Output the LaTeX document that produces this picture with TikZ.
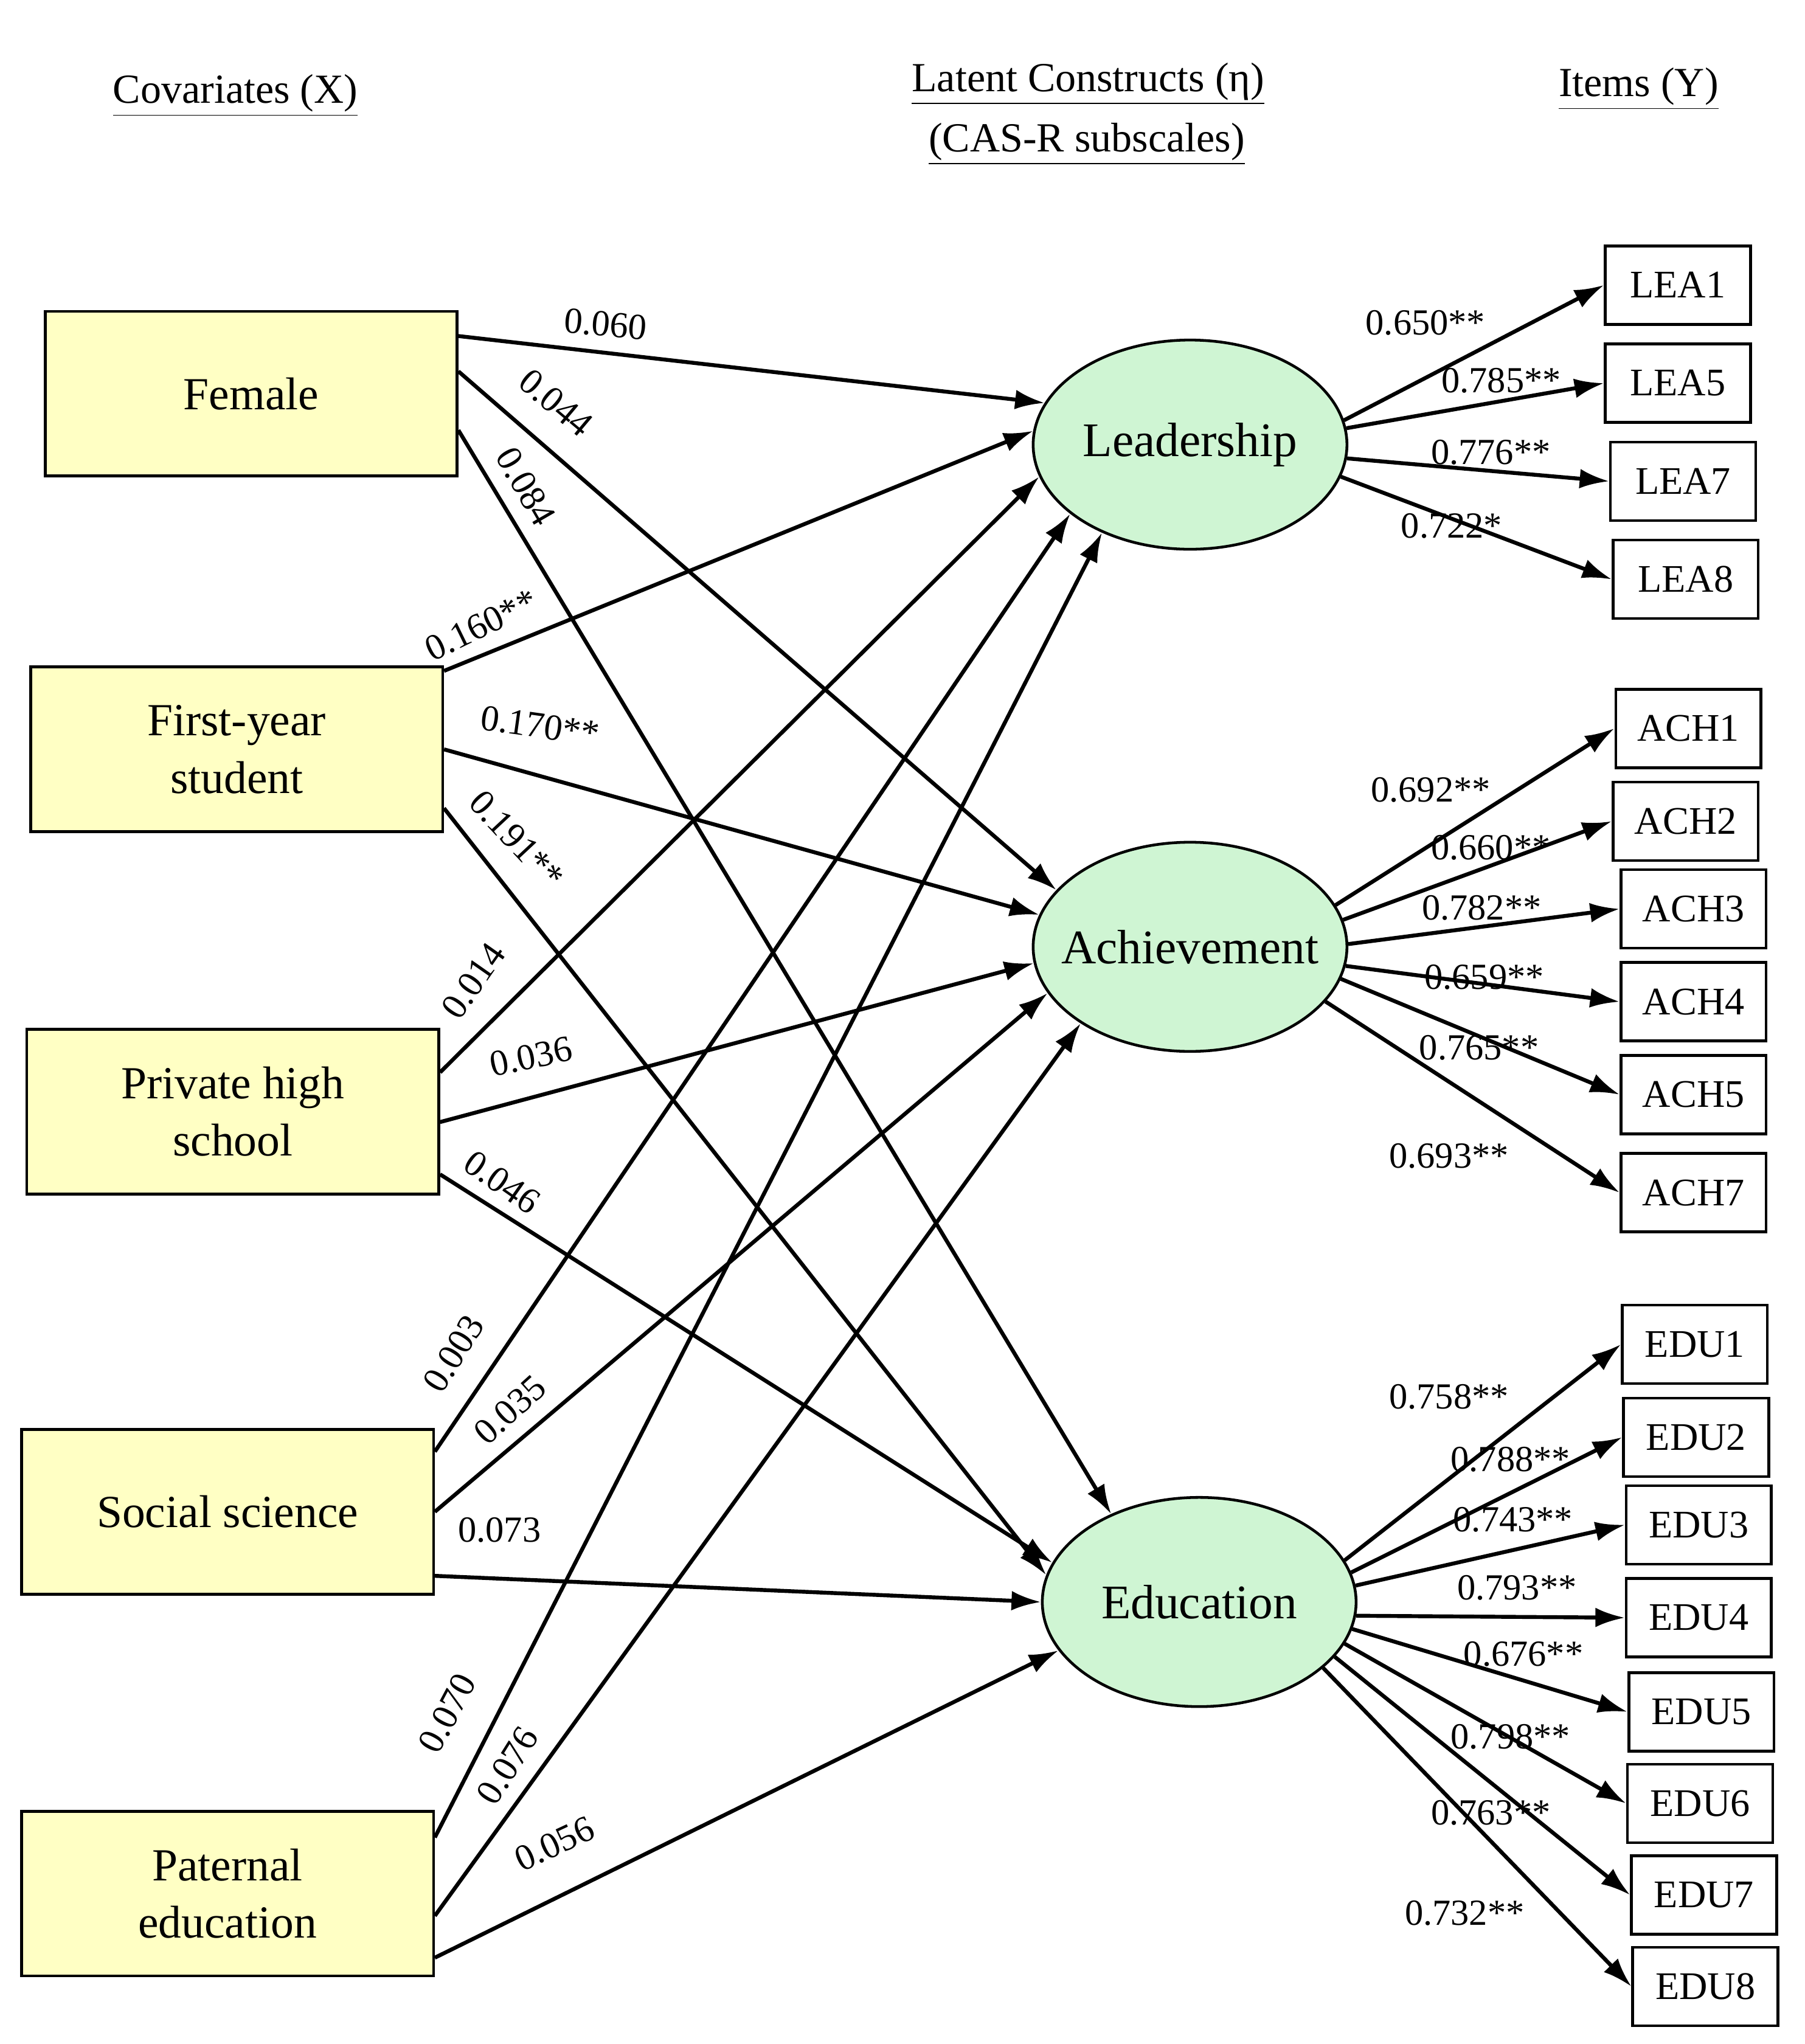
\documentclass[tikz,border=0pt]{standalone}
\usepackage{fontspec}
\setmainfont{Liberation Serif}
\usetikzlibrary{arrows.meta,shapes.geometric}
\definecolor{boxy}{HTML}{FFFFC4}
\definecolor{ellg}{HTML}{CFF5D3}
\begin{document}
\begin{tikzpicture}[x=0.02cm,y=-0.02cm,
 cov/.style={draw,line width=1.2pt,fill=boxy,minimum width=6.3cm,minimum height=2.52cm,align=center,font=\fontsize{20}{25}\selectfont},
 lat/.style={draw,line width=1.2pt,fill=ellg,ellipse,minimum width=4.8cm,minimum height=3.2cm,inner sep=0pt,font=\fontsize{21}{25}\selectfont},
 item/.style={draw,line width=1.2pt,fill=white,minimum width=2.22cm,minimum height=1.2cm,font=\fontsize{17}{20}\selectfont},
 ar/.style={line width=1.7pt,-{Latex[length=0.45cm,width=0.3cm]}},
 co/.style={font=\fontsize{16}{19}\selectfont,inner sep=1pt},
 hd/.style={font=\fontsize{18}{22}\selectfont}]
\useasboundingbox[fill=white] (0,0) rectangle (1380,1563);
\node[hd] (h1) at (180,73) {\underline{Covariates (X)}};
\node[hd] (h2) at (832,64) {\underline{Latent Constructs (η)}};
\node[hd] (h3) at (831,110) {\underline{(CAS-R subscales)}};
\node[hd] (h4) at (1253,68) {\underline{Items (Y)}};
\node[cov] (fem) at (192,301) {Female};
\node[cov] (fy) at (181,573) {First-year\\student};
\node[cov] (ph) at (178,850) {Private high\\school};
\node[cov] (ss) at (174,1156) {Social science};
\node[cov] (pe) at (174,1448) {Paternal\\education};
\node[lat] (lead) at (910,340) {Leadership};
\node[lat,inner xsep=-14pt] (ach) at (910,724) {Achievement};
\node[lat] (edu) at (917,1225) {Education};
\foreach \n/\x/\y in {LEA1/1283/218,LEA5/1283/293,LEA7/1287/368,LEA8/1289/443,
 ACH1/1291/557,ACH2/1289/628,ACH3/1295/695,ACH4/1295/766,ACH5/1295/837,ACH7/1295/912,
 EDU1/1296/1028,EDU2/1297/1099,EDU3/1299/1166,EDU4/1299/1237,EDU5/1301/1309,EDU6/1300/1379,EDU7/1303/1449,EDU8/1304/1519}
 \node[item] (\n) at (\x,\y) {\n};
% covariate paths
\draw[ar] ([yshift=-0.4cm]fem.north east) -- (lead.164);
\draw[ar] ([yshift=-0.94cm]fem.north east) -- (ach.157);
\draw[ar] ([yshift=-1.84cm]fem.north east) -- (edu.135);
\draw[ar] ([yshift=1.2cm]fy.east) -- (lead.175);
\draw[ar] (fy.east) -- (ach.168);
\draw[ar] ([yshift=-0.9cm]fy.east) -- (edu.170);
\draw[ar] ([yshift=0.6cm]ph.east) -- (lead.192);
\draw[ar] ([yshift=-0.16cm]ph.east) -- (ach.186);
\draw[ar] ([yshift=-0.96cm]ph.east) -- (edu.165);
\draw[ar] ([yshift=0.92cm]ss.east) -- (lead.210);
\draw[ar] (ss.east) -- (ach.198);
\draw[ar] ([yshift=-0.98cm]ss.east) -- (edu.180);
\draw[ar] ([yshift=0.86cm]pe.east) -- (lead.225);
\draw[ar] ([yshift=-0.34cm]pe.east) -- (ach.215);
\draw[ar] ([yshift=-0.98cm]pe.east) -- (edu.199);
% item paths
\foreach \a/\n in {9/LEA1,6/LEA5,-5/LEA7,-12/LEA8} \draw[ar] (lead.\a) -- (\n.west);
\foreach \a/\n in {16/ACH1,10/ACH2,1/ACH3,-7/ACH4,-12/ACH5,-22/ACH7} \draw[ar] (ach.\a) -- (\n.west);
\foreach \a/\n in {16/EDU1,11/EDU2,6/EDU3,-5/EDU4,-10/EDU5,-16/EDU6,-22/EDU7,-28/EDU8} \draw[ar] (edu.\a) -- (\n.west);
% covariate coefficients
\node[co,rotate=-5] (c1) at (463,248) {0.060};
\node[co,rotate=-40] (c2) at (425,308) {0.044};
\node[co,rotate=-60] (c3) at (402,372) {0.084};
\node[co,rotate=26] (c4) at (368,478) {0.160**};
\node[co,rotate=-8] (c5) at (413,555) {0.170**};
\node[co,rotate=-47] (c6) at (395,642) {0.191**};
\node[co,rotate=55] (c7) at (362,750) {0.014};
\node[co,rotate=12] (c8) at (406,808) {0.036};
\node[co,rotate=-35] (c9) at (384,904) {0.046};
\node[co,rotate=58] (c10) at (347,1035) {0.003};
\node[co,rotate=42] (c11) at (390,1078) {0.035};
\node[co] (c12) at (382,1170) {0.073};
\node[co,rotate=62] (c13) at (342,1310) {0.070};
\node[co,rotate=58] (c14) at (388,1350) {0.076};
\node[co,rotate=25] (c15) at (424,1410) {0.056};
% item coefficients
\foreach \t/\x/\y in {0.650**/1090/247,0.785**/1148/291,0.776**/1140/346,0.722*/1110/402,
 0.692**/1094/604,0.660**/1140/648,0.782**/1133/694,0.659**/1135/747,0.765**/1131/801,0.693**/1108/884,
 0.758**/1108/1068,0.788**/1155/1116,0.743**/1157/1162,0.793**/1160/1214,0.676**/1165/1265,0.798**/1155/1328,0.763**/1140/1386,0.732**/1120/1463}
 \node[co] at (\x,\y) {\t};
\end{tikzpicture}
\end{document}
